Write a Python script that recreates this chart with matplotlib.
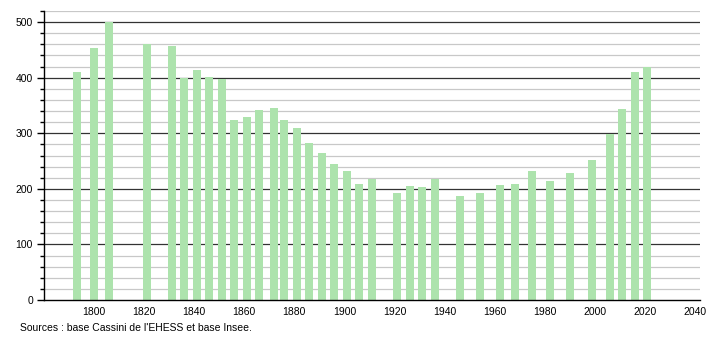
import numpy as np
import matplotlib
matplotlib.use("Agg")
import matplotlib.pyplot as plt

years = [1793, 1800, 1806, 1821, 1831, 1836, 1841, 1846, 1851, 1856,
         1861, 1866, 1872, 1876, 1881, 1886, 1891, 1896, 1901, 1906,
         1911, 1921, 1926, 1931, 1936, 1946, 1954, 1962, 1968, 1975,
         1982, 1990, 1999, 2006, 2011, 2016, 2021]
population = [411, 453, 501, 460, 457, 400, 413, 402, 397, 324,
              330, 341, 346, 323, 310, 283, 265, 245, 232, 209,
              217, 193, 206, 204, 217, 188, 193, 207, 208, 232,
              214, 229, 252, 299, 344, 410, 420]
x_ticks = [1800, 1820, 1840, 1860, 1880, 1900, 1920, 1940, 1960, 1980, 2000, 2020, 2040]

plt.rcParams['font.family'] = ['Liberation Sans', 'DejaVu Sans']

fig = plt.figure(figsize=(7.1, 3.4), dpi=100)
ax = fig.add_axes([44 / 710, 40 / 340, 656 / 710, 289 / 340])

# grid: light every 20, dark every 100
for v in range(20, 521, 20):
    if v % 100 == 0:
        ax.axhline(v, color="#333333", linewidth=0.9, zorder=1)
    else:
        ax.axhline(v, color="#c8c8c8", linewidth=0.9, zorder=1)

ax.bar(years, population, width=3.2, color="#ade3ad", zorder=2)

ax.set_xlim(1780, 2042)
ax.set_ylim(0, 520)
ax.set_xticks(x_ticks)
ax.set_yticks(range(0, 501, 100))
ax.set_yticks(range(0, 521, 20), minor=True)
ax.tick_params(axis="x", length=0, labelsize=7.5, pad=5)
ax.tick_params(axis="y", which="major", length=5, width=1, labelsize=7.5, pad=3)
ax.tick_params(axis="y", which="minor", length=3, width=1)

for s in ["top", "right"]:
    ax.spines[s].set_visible(False)
ax.spines["left"].set_linewidth(1)
ax.spines["bottom"].set_linewidth(1)

fig.text(20 / 710, 1 - 328 / 340, "Sources : base Cassini de l'EHESS et base Insee.",
         fontsize=7.5, va="center", ha="left")

fig.savefig("out.png", dpi=100)
